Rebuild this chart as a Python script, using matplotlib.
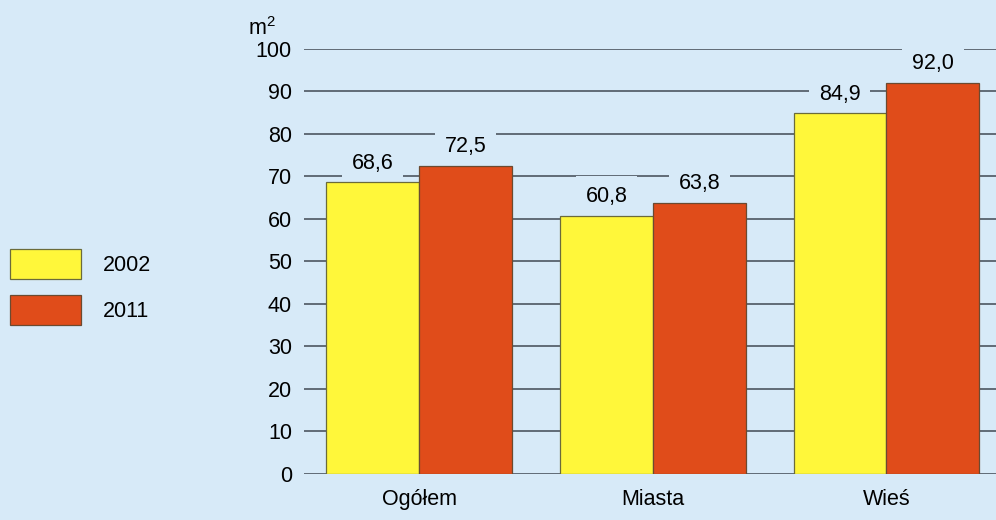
import numpy as np
import matplotlib
matplotlib.use("Agg")
import matplotlib.pyplot as plt
from matplotlib.patches import Patch


categories = ["Ogółem", "Miasta", "Wieś"]
years = ["2002", "2011"]
values2002 = [68.6, 60.8, 84.9]
values2011 = [72.5, 63.8, 92.0]

BG = "#d7eaf8"
YELLOW = "#fff73a"
RED = "#e04c1a"
FS = 15.5

plt.rcParams["font.family"] = ["Liberation Sans", "DejaVu Sans"]
plt.rcParams["font.size"] = FS
plt.rcParams["mathtext.default"] = "regular"

figure = plt.figure(figsize=(9.96, 5.2), dpi=100, facecolor=BG)
axes = figure.add_axes([0.305, 0.0885, 0.695, 0.8173])
axes.set_facecolor(BG)

x = np.arange(len(categories))
width = 0.398

bars1 = axes.bar(x - width / 2, values2002, width, color=YELLOW,
                 edgecolor="#6b6b3a", linewidth=0.9, zorder=3)
bars2 = axes.bar(x + width / 2, values2011, width, color=RED,
                 edgecolor="#6b4a30", linewidth=0.9, zorder=3)

# value labels sit on a background-coloured box that cuts the grid lines
for bars in (bars1, bars2):
    for bar in bars:
        h = bar.get_height()
        axes.text(bar.get_x() + bar.get_width() / 2, h + 2.0,
                  f"{h:.1f}".replace(".", ","), ha="center", va="bottom",
                  fontsize=FS, zorder=2,
                  bbox=dict(facecolor=BG, edgecolor="none", pad=7))

axes.set_ylim(0, 100)
axes.set_xlim(-0.495, 2.469)
axes.set_yticks(range(0, 101, 10))
axes.set_xticks(x)
axes.set_xticklabels(categories)
axes.tick_params(axis="both", length=0, labelsize=FS)
axes.tick_params(axis="y", pad=8.5)
axes.tick_params(axis="x", pad=11)
axes.yaxis.grid(True, color="#4c5660", linewidth=1.2, zorder=0)
axes.set_axisbelow(True)
for spine in axes.spines.values():
    spine.set_visible(False)

figure.text(0.249, 0.945, r"m$^2$", fontsize=FS, ha="left", va="center")

handles = [Patch(facecolor=YELLOW, edgecolor="#6b6b3a", linewidth=0.9),
           Patch(facecolor=RED, edgecolor="#6b4a30", linewidth=0.9)]
figure.legend(handles, years, loc="upper left",
              bbox_to_anchor=(10 / 996, 1 - 249 / 520),
              frameon=False, borderpad=0, borderaxespad=0,
              handlelength=3.3, handleheight=1.75,
              labelspacing=0.75, handletextpad=1.0, fontsize=FS)

figure.savefig("out.png", dpi=100, facecolor=BG)
